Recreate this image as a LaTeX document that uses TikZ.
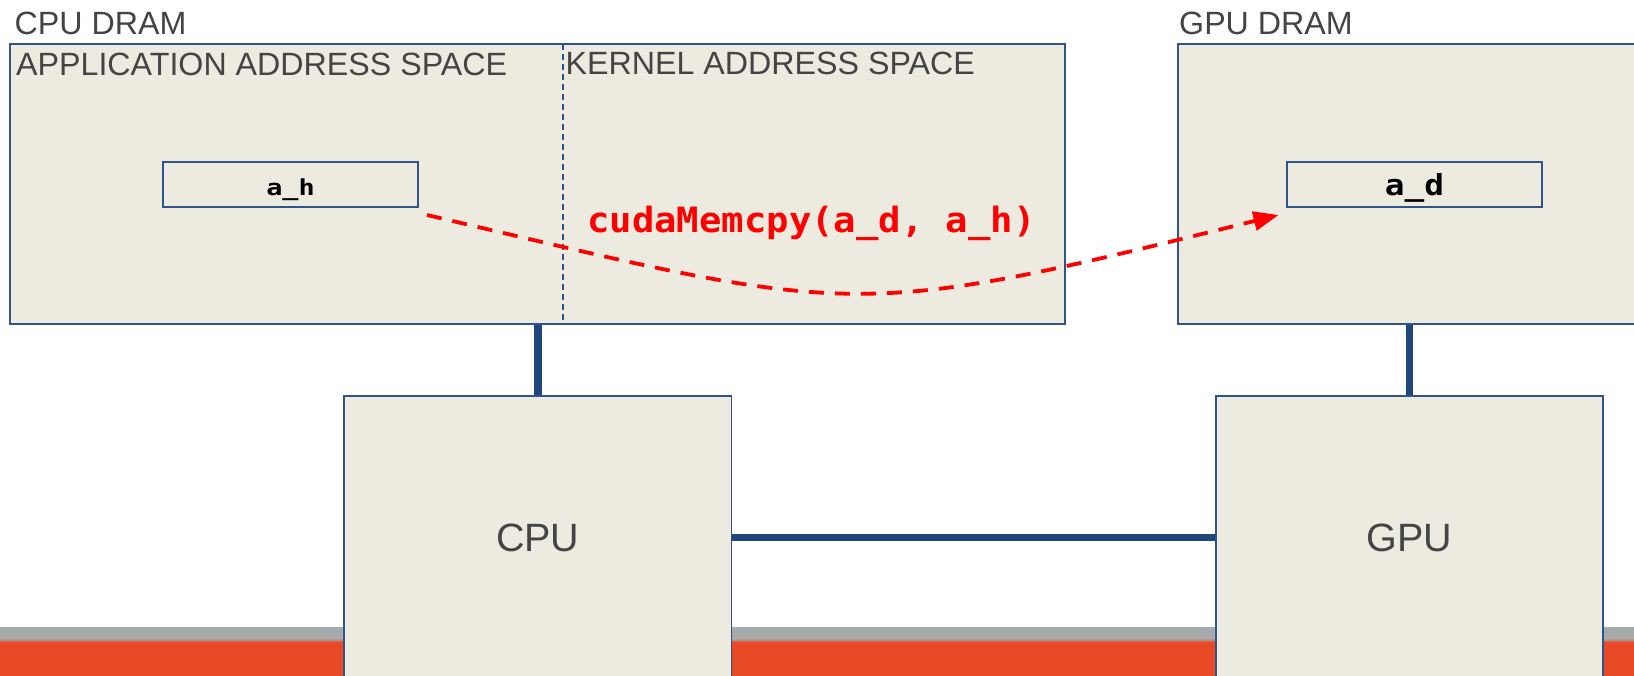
\documentclass[tikz,border=0pt]{standalone}
\usepackage{fontspec}
\setmainfont{Liberation Sans}
\newfontfamily\codefont{DejaVu Sans Mono}
\usetikzlibrary{arrows.meta}
\definecolor{boxfill}{RGB}{237,235,224}
\definecolor{boxline}{RGB}{47,84,140}
\definecolor{busline}{RGB}{31,71,124}
\definecolor{labelgray}{RGB}{68,68,68}
\definecolor{bandgray}{RGB}{165,171,171}
\definecolor{bandorange}{RGB}{232,74,39}
\definecolor{copyred}{RGB}{255,0,0}

\begin{document}
\begin{tikzpicture}[x=1pt,y=-1pt,
  panel/.style={draw=boxline, line width=1.9pt, fill=boxfill, rectangle, inner sep=0pt},
  varbox/.style={panel, minimum width=255pt, minimum height=45pt},
  chip/.style={panel, minimum width=387.5pt, minimum height=283pt,
    text=labelgray, font=\fontsize{39.5}{44}\selectfont},
  title/.style={anchor=base west, inner sep=0pt, text=labelgray,
    font=\fontsize{32.2}{36}\selectfont},
  varname/.style={anchor=base, inner sep=0pt, text=black, font=\codefont\bfseries},
  bus/.style={draw=busline, line width=7.8pt},
  divider/.style={draw=boxline, line width=1.6pt, dash pattern=on 6.5pt off 3.5pt},
  copyarrow/.style={draw=copyred, line width=3.8pt, dash pattern=on 15pt off 11pt,
    -{Triangle[length=25pt,width=19pt]}},
]
\clip (0,0) rectangle (1634,676);
\fill[white] (0,0) rectangle (1634,676);

% footer band
\fill[bandgray] (0,627) rectangle (1634,640);
\shade[top color=bandgray, bottom color=bandorange] (0,638) rectangle (1634,643);
\fill[bandorange] (0,642) rectangle (1634,676);

% memories
\node[panel, minimum width=1055pt, minimum height=280pt] (cpudram) at (537.5,184) {};
\node[panel, minimum width=522pt, minimum height=280pt] (gpudram) at (1439,184) {};

\node[title] (cpudramlabel) at (14.5,34.3) {CPU DRAM};
\node[title] (gpudramlabel) at (1179,34.3) {GPU DRAM};
\node[title] (applabel) at (16,76) {APPLICATION ADDRESS SPACE};
\node[title] (kernlabel) at (565.5,74.5) {KERNEL ADDRESS SPACE};

\coordinate (divtop) at (563,44);
\coordinate (divbot) at (563,324);
\draw[divider] (divtop) -- (divbot);

% variables
\node[varbox] (ah) at (290.5,184.2) {};
\node[varname] (ahtext) at (290.5,195.5) {\fontsize{22}{26}\selectfont\scalebox{1.22}[1]{a\_h}};
\node[varbox] (ad) at (1414.5,184.2) {};
\node[varname] (adtext) at (1414.5,195.5) {\fontsize{29}{32}\selectfont\scalebox{1.13}[1]{a\_d}};

% processors
\node[chip] (cpu) at (537.75,537.5) {CPU};
\node[chip] (gpu) at (1409.5,537.5) {GPU};

% buses
\draw[bus] (cpu.north) -- (cpu.north |- cpudram.south);
\draw[bus] (gpu.north) -- (gpu.north |- gpudram.south);
\draw[bus] (cpu.east) -- (gpu.west);

% copy
\node[anchor=base, inner sep=0pt, text=copyred, font=\codefont\bfseries] (copylabel)
  at (811.5,233) {\fontsize{34.8}{40}\selectfont\scalebox{1.07}[1]{cudaMemcpy(a\_d, a\_h)}};
\coordinate (cpstart) at (427,215);
\coordinate (cpend) at (1278.5,215);
\draw[copyarrow] (cpstart) .. controls (857,316) and (848,322) .. (cpend);
\end{tikzpicture}
\end{document}
